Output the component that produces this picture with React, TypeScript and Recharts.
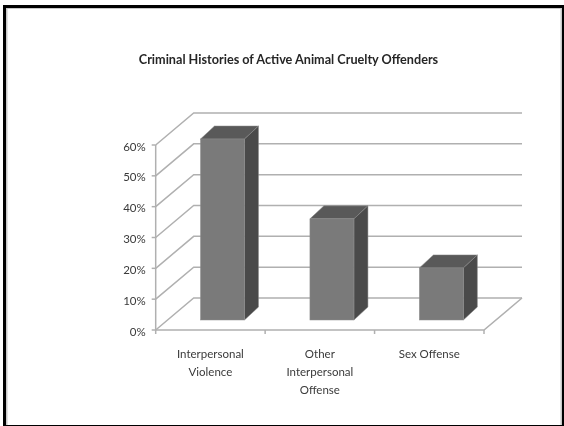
import React from "react";
import { BarChart, Bar, XAxis, YAxis, CartesianGrid } from "recharts";

const title = "Criminal Histories of Active Animal Cruelty Offenders";
const categories = ["Interpersonal Violence", "Other Interpersonal Offense", "Sex Offense"];
const categoryLines = [
  ["Interpersonal", "Violence"],
  ["Other", "Interpersonal", "Offense"],
  ["Sex Offense"],
];
const values = [58.7, 32.8, 16.9];
const yTicks = [0, 10, 20, 30, 40, 50, 60];

const data = categories.map((name, i) => ({ name, value: values[i] }));

const FONT = "Lato, 'Open Sans', sans-serif";
const TEXT = "#3a3a3a";
const GRID = "#b0b0b0";
const WALL_DX = 38;
const WALL_DY = 32;

function GridLine(props: any) {
  const { x1, x2, y1 } = props;
  const isFloor = Math.abs(y1 - 330) < 1;
  const step = (x2 - x1) / categories.length;
  return (
    <g fill="none" stroke={GRID} strokeWidth={1.5}>
      <polyline points={`${x1},${y1} ${x1 + WALL_DX},${y1 - WALL_DY} ${x2 + WALL_DX},${y1 - WALL_DY}`} />
      {isFloor && <polyline points={`${x1},${y1} ${x2},${y1} ${x2 + WALL_DX},${y1 - WALL_DY}`} />}
      {isFloor &&
        categories.map((_, i) => (
          <line key={i} x1={x1 + (i + 1) * step} x2={x1 + (i + 1) * step} y1={y1} y2={y1 + 4} />
        ))}
      {isFloor && <line x1={x1} x2={x1} y1={y1} y2={y1 + 4} />}
    </g>
  );
}

function Bar3D(props: any) {
  const { x, y, width, height } = props;
  const fx = x + 11.8;
  const fy = y - 10;
  const dx = 14;
  const dy = 13;
  const r = fx + width;
  const b = fy + height;
  return (
    <g stroke="#8c8c8c" strokeWidth={0.5}>
      <polygon fill="#595959" points={`${fx},${fy} ${fx + dx},${fy - dy} ${r + dx},${fy - dy} ${r},${fy}`} />
      <polygon fill="#4a4a4a" points={`${r},${fy} ${r + dx},${fy - dy} ${r + dx},${b - dy} ${r},${b}`} />
      <rect x={fx} y={fy} width={width} height={height} fill="#7a7a7a" />
    </g>
  );
}

function CategoryTick(props: any) {
  const { x, y, index } = props;
  const lines = categoryLines[index] || [];
  return (
    <text x={x} y={y} textAnchor="middle" fontFamily={FONT} fontSize={11.5} fill={TEXT}>
      {lines.map((line, i) => (
        <tspan key={i} x={x} y={358 + i * 18}>
          {line}
        </tspan>
      ))}
    </text>
  );
}

export default function App() {
  return (
    <div
      style={{
        position: "absolute",
        left: 0,
        top: 0,
        width: 564,
        height: 426,
        background: "#fff",
        overflow: "hidden",
        filter: "blur(0.35px)",
      }}
    >
      <div
        style={{
          position: "absolute",
          left: 3,
          top: 5,
          width: 556,
          height: 417,
          borderStyle: "solid",
          borderColor: "#000",
          borderWidth: "3px 2.5px 2px 3px",
          boxShadow: "inset 1.5px 1px 0 #c8c8c8, inset -1.5px 0 0 #c8c8c8",
        }}
      />
      <div
        style={{
          position: "absolute",
          left: 0,
          width: 577,
          top: 52,
          textAlign: "center",
          fontFamily: FONT,
          fontWeight: 700,
          fontSize: 12.65,
          lineHeight: "16px",
          color: "#262626",
        }}
      >
        {title}
      </div>
      <div style={{ position: "absolute", left: 0, top: 0 }}>
        <BarChart
          width={564}
          height={426}
          data={data}
          margin={{ top: 145, right: 80, bottom: 56, left: 125.7 }}
        >
          <CartesianGrid horizontal={(p: any) => <GridLine key={p.index ?? p.y1} {...p} />} vertical={false} />
          <XAxis dataKey="name" height={40} axisLine={false} tickLine={false} tick={<CategoryTick />} interval={0} />
          <YAxis
            width={30}
            domain={[0, 60]}
            ticks={yTicks}
            tickFormatter={(v: number) => `${v}%`}
            tick={{ fontFamily: FONT, fontSize: 11.5, fill: TEXT, dy: 1.5 }}
            axisLine={{ stroke: GRID, strokeWidth: 1.5 }}
            tickLine={{ stroke: GRID, strokeWidth: 1.5 }}
            tickSize={4}
            tickMargin={6}
          />
          <Bar dataKey="value" barSize={44} shape={<Bar3D />} isAnimationActive={false} />
        </BarChart>
      </div>
    </div>
  );
}
